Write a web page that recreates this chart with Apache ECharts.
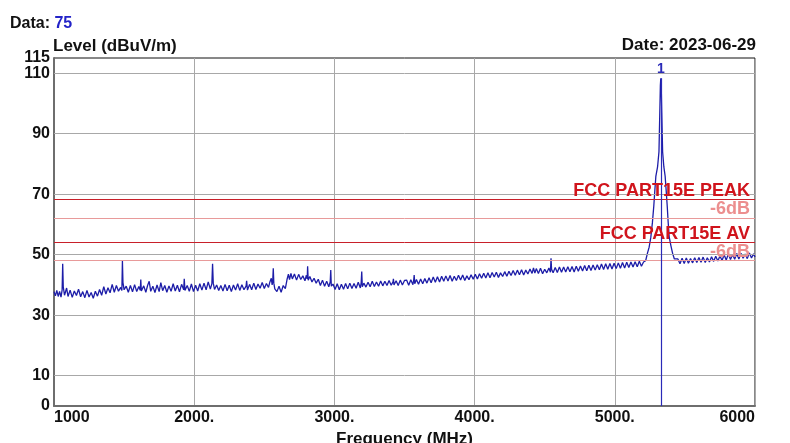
<!DOCTYPE html>
<html>
<head>
<meta charset="utf-8">
<script src="https://cdn.jsdelivr.net/npm/echarts@6/dist/echarts.min.js"></script>
<style>
html,body{margin:0;padding:0;background:#fff;}
#chart{width:790px;height:443px;}
</style>
</head>
<body>
<div id="chart"></div>
<script>
// ---- data ----
const freqMHz = [
1000,1010,1020,1030,1040,1050,1058,1062,1066,1075,1090,1100,1115,1130,1145,1160,1175,1190,1205,1220,1235,1250,1265,1280,1295,1310,1325,1340,1355,1370,1385,1400,1415,1430,1445,1460,1475,1484,1488,1492,1500,
1515,1530,1545,1560,1575,1590,1605,1615,1619,1623,1640,1655,1668,1679,1690,1705,1720,1735,1750,1762,1775,1790,1805,1820,1835,1850,1865,1880,1895,1910,1925,1929,1934,1950,1965,1980,1995,2010,2025,2040,2055,2070,2085,2100,2115,2126,2131,2136,2145,2160,2175,
2190,2205,2220,2235,2250,2265,2280,2295,2310,2325,2340,2355,2370,2374,2380,2395,2410,2425,2440,2455,2470,2485,2500,2515,2530,2540,2550,2556,2560,2564,2568,2575,2590,2605,2620,2635,2650,2662,2672,2680,2690,2700,
2715,2730,2745,2760,2775,2790,2800,2806,2809,2813,2825,2840,2855,2870,2885,2900,2915,2930,2945,2960,2970,2974,2978,2990,3005,3020,3035,3050,3065,3080,3095,3110,3125,3140,3155,3170,3185,3191,3195,3199,3210,3225,
3240,3255,3270,3285,3300,3315,3330,3345,3360,3375,3390,3405,3418,3421,3425,3440,3455,3470,3485,3500,
3515,3530,3545,3560,3566,3569,3573,3585,3600,3615,3630,3645,3660,3675,3690,3705,3720,3735,3750,3765,3780,3795,3810,3825,3840,3855,3870,3885,3900,3915,3930,3945,3960,3975,3990,4005,4020,4035,4050,4065,4080,4095,4110,4125,4140,4155,4170,4185,4200,4215,4230,4245,4260,4275,4290,4305,4320,4335,4350,4365,4380,4395,4410,4420,4430,4440,4455,4470,4485,4500,4515,4530,4541,4545,4549,4560,4575,4590,4605,4620,4635,4650,4665,4680,4695,4710,4725,4740,
4755,4770,4785,4800,4815,4830,4845,4860,4875,4890,4905,4920,4935,4950,4965,4980,4995,5010,5025,5040,5055,5070,5085,5100,5115,5130,5145,5160,5175,5190,5205,
5220,5233,5245,5257,5268,5278,5286,5293,5305,5315,5321,5325,5328,5331,5335,5341,5350,5359,5366,5374,5381,5388,5400,5412,5425,5435,
5450,5465,5480,5495,5510,5525,5540,5555,5570,5585,5600,5615,5630,5645,5660,5675,5690,5705,5720,5735,5750,5765,5780,5795,5810,5825,5840,5855,5870,5885,5900,5915,5930,5945,5960,5975,5990,6000
];
const levelDbuV = [
37.8,36.4,38.2,36.2,37.9,36.0,38.4,47.0,39.4,36.6,39.0,36.2,38.3,35.9,38.0,36.5,38.6,36.1,37.8,35.8,38.2,36.0,37.5,35.6,37.9,36.3,38.5,36.6,39.4,37.0,39.1,37.4,40.2,37.6,39.8,37.9,39.2,38.2,48.0,40.8,38.4,
39.6,37.6,39.8,37.7,40.1,37.8,39.5,38.2,41.8,38.0,39.7,37.6,39.9,41.2,37.9,39.6,37.5,40.0,37.8,40.8,38.1,39.8,37.6,39.7,37.9,40.4,38.0,39.9,37.7,40.2,38.4,42.0,38.2,39.8,37.9,40.3,37.8,39.9,38.0,40.4,38.3,40.6,38.4,41.0,38.6,40.4,47.0,40.6,38.5,40.0,38.2,
39.8,38.0,40.2,38.1,39.9,37.8,40.0,38.3,40.4,38.2,40.1,38.4,39.6,41.4,38.3,40.2,38.4,40.6,38.5,40.3,38.9,40.8,38.8,40.5,39.2,41.0,42.2,40.0,41.2,45.5,40.6,38.7,37.8,39.6,37.6,39.8,38.8,41.8,43.6,41.8,43.8,42.0,
43.6,41.6,43.5,41.8,43.0,41.4,43.2,42.0,46.2,41.6,42.8,41.0,42.2,40.6,41.9,39.8,41.6,39.6,41.2,39.4,41.0,44.9,39.6,40.3,38.5,40.4,38.4,40.2,38.6,40.5,38.7,40.6,38.8,40.5,38.9,40.9,39.0,40.8,44.4,39.4,40.6,39.3,
40.9,39.4,41.2,39.5,41.0,39.6,41.3,39.7,41.2,39.8,41.5,39.9,41.0,42.0,40.0,41.4,39.8,41.6,40.0,41.5,
41.6,39.9,41.7,40.1,41.8,43.3,40.4,
41.8,40.2,42.0,40.4,42.1,40.6,42.4,40.7,42.6,40.9,42.7,41.0,42.9,41.2,43.0,41.3,43.1,41.2,42.9,41.5,43.2,41.6,43.3,41.5,43.0,41.7,43.4,41.9,43.5,42.0,43.7,42.2,43.9,42.3,44.0,42.4,44.1,42.6,44.2,42.5,44.0,42.8,44.4,42.9,44.5,43.1,44.8,43.2,44.9,43.4,45.0,43.3,44.9,43.6,45.3,43.8,
45.6,43.9,45.4,
43.8,45.5,43.7,45.2,44.0,45.6,
44.2,48.8,45.2,
44.0,45.8,44.1,45.9,44.2,45.9,44.3,46.0,44.4,46.1,44.3,46.2,44.5,
46.3,44.6,46.4,44.7,46.5,44.8,46.6,44.9,46.7,45.0,46.9,45.1,47.0,45.2,47.1,45.3,47.2,45.4,47.3,45.5,47.4,45.6,47.5,45.8,47.6,45.9,47.7,46.0,47.8,46.2,47.6,
48.0,50.5,52.5,55.8,60.5,66.0,71.5,76.0,79.0,84.0,97.0,106.0,108.3,106.0,97.0,84.0,79.0,76.0,71.5,66.0,60.5,55.9,53.0,50.5,48.6,48.0,
48.6,47.0,48.8,47.1,48.9,47.2,48.7,47.3,49.0,47.4,49.1,47.5,49.2,47.4,49.0,47.6,49.3,47.8,49.5,47.9,49.6,48.1,50.0,48.2,50.3,48.4,50.1,48.5,50.4,48.6,50.5,48.8,50.2,48.7,50.6,48.9,50.3,49.2
];
const limitNames = ['FCC PART15E PEAK', '-6dB', 'FCC PART15E AV', '-6dB'];
const limitValues = [68.2, 62.2, 54.0, 48.0];
const yTickLabels = [0, 10, 30, 50, 70, 90, 110];
const yTopLabel = [115];
const yGridValues = [10, 30, 50, 70, 90, 110];
const markerFreq = 5328;
const markerLevel = 108.3;
const markerName = '1';
const xMin = 1000, xMax = 6000, xStep = 1000;

// ---- chart ----
const FONT = '"Liberation Sans", Arial, sans-serif';
const chart = echarts.init(document.getElementById('chart'), null, {renderer: 'canvas'});
const traceData = freqMHz.map((f, i) => [f, levelDbuV[i]]);

const limitColors = ['#c8202a', '#e89a9a', '#c8202a', '#e89a9a'];
const limitLines = limitValues.map((v, i) => ({
  yAxis: v,
  lineStyle: {color: limitColors[i], width: 1, type: 'solid'},
  label: {
    show: true, position: 'insideEndTop', formatter: limitNames[i],
    color: i % 2 === 0 ? '#d0141c' : '#ec8e8e',
    fontFamily: FONT, fontWeight: 'bold', fontSize: 18, distance: [5, 0]
  }
}));
const gridLines = yGridValues.map(v => ({
  yAxis: v, lineStyle: {color: '#a8a8a8', width: 1, type: 'solid'}, label: {show: false}
}));
const yLabelStyle = {fontFamily: FONT, fontWeight: 'bold', fontSize: 16, color: '#111', margin: 4,
                     hideOverlap: false, showMinLabel: true, showMaxLabel: true};

chart.setOption({
  animation: false,
  backgroundColor: '#fff',
  title: {
    text: '{a|Data: }{b|75}', left: 5, top: 11,
    textStyle: {rich: {
      a: {fontFamily: FONT, fontWeight: 'bold', fontSize: 16, color: '#111'},
      b: {fontFamily: FONT, fontWeight: 'bold', fontSize: 16, color: '#2323c8'}
    }}
  },
  graphic: [
    {type: 'text', left: 53, top: 38, style: {text: 'Level (dBuV/m)', font: 'bold 17px ' + FONT, fill: '#111'}},
    {type: 'text', right: 34, top: 37, style: {text: 'Date: 2023-06-29', font: 'bold 17px ' + FONT, fill: '#111'}}
  ],
  grid: {left: 54, right: 35, top: 58, bottom: 37, outerBoundsMode: 'none', containLabel: false,
         show: true, borderColor: '#111', borderWidth: 1, backgroundColor: '#fff'},
  xAxis: {
    type: 'value', min: xMin, max: xMax, interval: xStep,
    name: 'Frequency (MHz)', nameLocation: 'middle', nameGap: 14,
    nameTextStyle: {fontFamily: FONT, fontWeight: 'bold', fontSize: 17, color: '#111'},
    axisLine: {show: true, onZero: false, lineStyle: {color: '#6e6e6e', width: 2}},
    axisTick: {show: false},
    splitLine: {show: true, lineStyle: {color: '#a8a8a8', width: 1}},
    axisLabel: {
      fontFamily: FONT, fontWeight: 'bold', fontSize: 16, color: '#111', margin: 4,
      alignMinLabel: 'left', alignMaxLabel: 'right', hideOverlap: false,
      formatter: v => (v === xMin || v === xMax) ? String(v) : v + '.'
    }
  },
  yAxis: [
    {
      type: 'value', min: 0, max: 115, interval: 5,
      axisLine: {show: true, lineStyle: {color: '#6e6e6e', width: 2}},
      axisTick: {show: false},
      splitLine: {show: false},
      axisLabel: Object.assign({customValues: yTickLabels}, yLabelStyle)
    },
    {
      type: 'value', min: 0, max: 115, interval: 5, position: 'left', offset: 0,
      axisLine: {show: false}, axisTick: {show: false}, splitLine: {show: false},
      axisLabel: Object.assign({customValues: yTopLabel}, yLabelStyle)
    }
  ],
  series: [
    {
      type: 'line', data: [], z: 1, silent: true,
      markLine: {silent: true, symbol: 'none', animation: false, data: gridLines}
    },
    {
      type: 'line', data: traceData, showSymbol: false, symbol: 'none', z: 3,
      lineStyle: {color: '#1d1da8', width: 1.3},
      markLine: {
        silent: true, symbol: 'none', animation: false,
        data: limitLines.concat([[
          {coord: [markerFreq, 0], lineStyle: {color: '#2a2ab8', width: 1.2, type: 'solid'}},
          {coord: [markerFreq, markerLevel], label: {show: true, position: 'end', formatter: markerName, color: '#2a2ab8', fontFamily: FONT, fontSize: 14, fontWeight: 'bold', distance: 2}}
        ]])
      }
    }
  ]
});
</script>
</body>
</html>
